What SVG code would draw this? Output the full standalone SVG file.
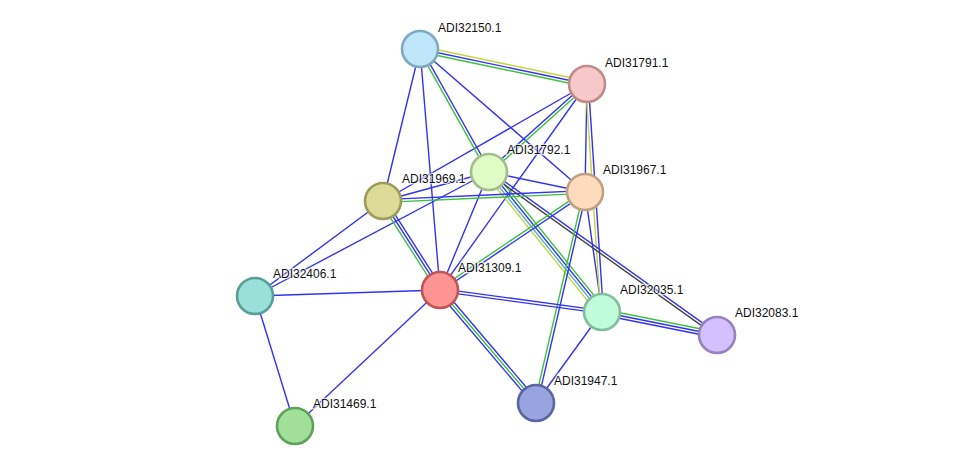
<svg xmlns="http://www.w3.org/2000/svg" width="976" height="471" viewBox="0 0 976 471">
<style>
.e line{stroke-width:1.4;fill:none}
.b{stroke:#3333f0}
.g{stroke:#3fc03f}
.y{stroke:#c6d43c}
.c{stroke:#4aaee0}
.k{stroke:#444444}
.n circle{stroke-width:2.6}
.n text{font-family:"Liberation Sans",Arial,sans-serif;font-size:12px;fill:#111;stroke:#fff;stroke-width:2.5;stroke-opacity:0.7;paint-order:stroke}
</style>
<rect width="976" height="471" fill="#ffffff"/>
<g id="edges" class="e">
  <line class="b" x1="420" y1="49" x2="383" y2="201"/>
  <line class="b" x1="420" y1="49" x2="440" y2="290"/>
  <line class="b" x1="420" y1="49" x2="585" y2="192"/>
  <line class="b" x1="587" y1="84" x2="383" y2="201"/>
  <line class="b" x1="587" y1="84" x2="440" y2="290"/>
  <line class="b" x1="587" y1="84" x2="585" y2="192"/>
  <line class="b" x1="489" y1="172" x2="383" y2="201"/>
  <line class="b" x1="489" y1="172" x2="585" y2="192"/>
  <line class="b" x1="489" y1="172" x2="440" y2="290"/>
  <line class="b" x1="489" y1="172" x2="255" y2="296"/>
  <line class="b" x1="383" y1="201" x2="255" y2="296"/>
  <line class="b" x1="585" y1="192" x2="602" y2="312"/>
  <line class="b" x1="440" y1="290" x2="255" y2="296"/>
  <line class="b" x1="440" y1="290" x2="295" y2="426"/>
  <line class="b" x1="602" y1="312" x2="536" y2="403"/>
  <line class="b" x1="255" y1="296" x2="295" y2="426"/>
  <g transform="translate(420 49) rotate(11.84)">
    <line class="y" x1="0" y1="-2.8" x2="170.6" y2="-2.8"/>
    <line class="b" x1="0" y1="0" x2="170.6" y2="0"/>
    <line class="g" x1="0" y1="2.8" x2="170.6" y2="2.8"/>
  </g>
  <g transform="translate(420 49) rotate(60.7)">
    <line class="g" x1="0" y1="1.4" x2="141" y2="1.4"/>
    <line class="b" x1="0" y1="-1.4" x2="141" y2="-1.4"/>
  </g>
  <g transform="translate(587 84) rotate(138.08)">
    <line class="b" x1="0" y1="1.4" x2="131.7" y2="1.4"/>
    <line class="g" x1="0" y1="-1.4" x2="131.7" y2="-1.4"/>
  </g>
  <g transform="translate(587 84) rotate(86.24)">
    <line class="y" x1="0" y1="1.4" x2="228.5" y2="1.4"/>
    <line class="b" x1="0" y1="-1.4" x2="228.5" y2="-1.4"/>
  </g>
  <g transform="translate(489 172) rotate(51.09)">
    <line class="y" x1="0" y1="4.2" x2="179.9" y2="4.2"/>
    <line class="c" x1="0" y1="1.4" x2="179.9" y2="1.4"/>
    <line class="b" x1="0" y1="-1.4" x2="179.9" y2="-1.4"/>
    <line class="g" x1="0" y1="-4.2" x2="179.9" y2="-4.2"/>
  </g>
  <g transform="translate(489 172) rotate(35.56)">
    <line class="k" x1="0" y1="1.4" x2="280.3" y2="1.4"/>
    <line class="b" x1="0" y1="-1.4" x2="280.3" y2="-1.4"/>
  </g>
  <g transform="translate(383 201) rotate(-2.55)">
    <line class="b" x1="0" y1="-1.4" x2="202.2" y2="-1.4"/>
    <line class="g" x1="0" y1="1.4" x2="202.2" y2="1.4"/>
  </g>
  <g transform="translate(383 201) rotate(57.36)">
    <line class="g" x1="0" y1="2.8" x2="105.7" y2="2.8"/>
    <line class="b" x1="0" y1="0" x2="105.7" y2="0"/>
    <line class="b" x1="0" y1="-2.8" x2="105.7" y2="-2.8"/>
  </g>
  <g transform="translate(585 192) rotate(145.95)">
    <line class="g" x1="0" y1="1.4" x2="175" y2="1.4"/>
    <line class="b" x1="0" y1="-1.4" x2="175" y2="-1.4"/>
  </g>
  <g transform="translate(585 192) rotate(103.07)">
    <line class="g" x1="0" y1="1.4" x2="216.6" y2="1.4"/>
    <line class="b" x1="0" y1="-1.4" x2="216.6" y2="-1.4"/>
  </g>
  <g transform="translate(440 290) rotate(7.73)">
    <line class="b" x1="0" y1="1.4" x2="163.5" y2="1.4"/>
    <line class="b" x1="0" y1="-1.4" x2="163.5" y2="-1.4"/>
  </g>
  <g transform="translate(440 290) rotate(49.65)">
    <line class="b" x1="0" y1="2.8" x2="148.3" y2="2.8"/>
    <line class="g" x1="0" y1="0" x2="148.3" y2="0"/>
    <line class="b" x1="0" y1="-2.8" x2="148.3" y2="-2.8"/>
  </g>
  <g transform="translate(602 312) rotate(11.31)">
    <line class="g" x1="0" y1="-2.8" x2="117.3" y2="-2.8"/>
    <line class="b" x1="0" y1="0" x2="117.3" y2="0"/>
    <line class="b" x1="0" y1="2.8" x2="117.3" y2="2.8"/>
  </g>
</g>
<g id="ADI32150.1" class="n"><circle cx="420" cy="49" r="18" fill="#c0e6fb" stroke="#80a8c0"/><text x="438" y="32">ADI32150.1</text></g>
<g id="ADI31791.1" class="n"><circle cx="587" cy="84" r="18" fill="#f7c8c8" stroke="#c08a8a"/><text x="605" y="67">ADI31791.1</text></g>
<g id="ADI31792.1" class="n"><circle cx="489" cy="172" r="18" fill="#e0fcc4" stroke="#a2be8a"/><text x="507" y="154">ADI31792.1</text></g>
<g id="ADI31967.1" class="n"><circle cx="585" cy="192" r="18" fill="#fcdcbc" stroke="#c0a282"/><text x="603" y="174">ADI31967.1</text></g>
<g id="ADI31969.1" class="n"><circle cx="383" cy="201" r="18" fill="#dcdc98" stroke="#9c9c5a"/><text x="402" y="183">ADI31969.1</text></g>
<g id="ADI32406.1" class="n"><circle cx="255" cy="296" r="18" fill="#98e0d8" stroke="#5a9e98"/><text x="273" y="278">ADI32406.1</text></g>
<g id="ADI31309.1" class="n"><circle cx="440" cy="290" r="18" fill="#fc9494" stroke="#c05656"/><text x="458" y="272">ADI31309.1</text></g>
<g id="ADI32035.1" class="n"><circle cx="602" cy="312" r="18" fill="#c0fcdc" stroke="#82be9e"/><text x="620" y="294">ADI32035.1</text></g>
<g id="ADI32083.1" class="n"><circle cx="717" cy="335" r="18" fill="#d4c0fc" stroke="#9682be"/><text x="735" y="317">ADI32083.1</text></g>
<g id="ADI31947.1" class="n"><circle cx="536" cy="403" r="18" fill="#98a4e0" stroke="#5a66a0"/><text x="554" y="385">ADI31947.1</text></g>
<g id="ADI31469.1" class="n"><circle cx="295" cy="426" r="18" fill="#a0e098" stroke="#62a05a"/><text x="313" y="408">ADI31469.1</text></g>
</svg>
